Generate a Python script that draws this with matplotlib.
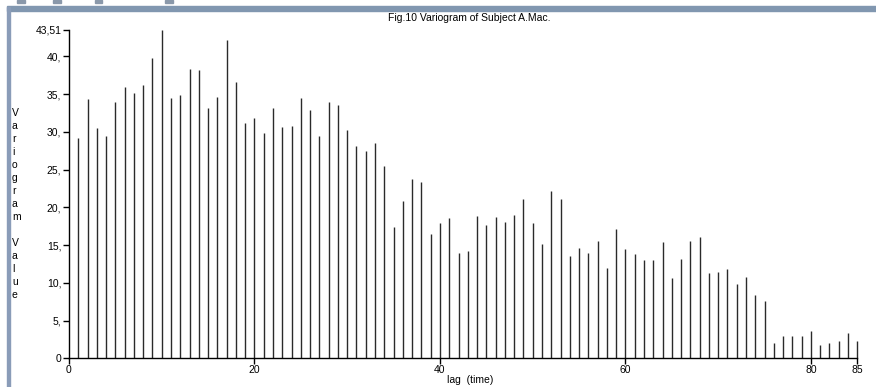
#!/usr/bin/env python3
# -*- coding: utf-8 -*-
"""
Вариограмма (Fig.10) - вертикальные линии по лагам
"""

import matplotlib.pyplot as plt
from matplotlib.patches import Rectangle

# Значения вариограммы для лагов 1..85
lags = list(range(1, 86))
variogram = [
    29.2, 34.3, 30.5, 29.4, 33.9, 35.9, 35.1, 36.2, 39.8, 43.51,
    34.5, 34.9, 38.3, 38.2, 33.2, 34.6, 42.2, 36.6, 31.1, 31.8,
    29.9, 33.2, 30.6, 30.8, 34.5, 32.9, 29.4, 33.9, 33.5, 30.2,
    28.1, 27.5, 28.5, 25.5, 17.4, 20.9, 23.7, 23.4, 16.4, 17.9,
    18.6, 14.0, 14.2, 18.9, 17.6, 18.7, 18.0, 19.0, 21.1, 17.9,
    15.1, 22.1, 21.1, 13.6, 14.6, 14.0, 15.5, 12.0, 17.1, 14.5,
    13.8, 13.0, 13.0, 15.4, 10.6, 13.2, 15.5, 16.1, 11.3, 11.4,
    11.8, 9.9, 10.8, 8.4, 7.6, 2.0, 2.9, 2.9, 3.0, 3.6,
    1.7, 2.0, 2.3, 3.3, 2.3,
]

y_ticks = [0, 5, 10, 15, 20, 25, 30, 35, 40, 43.51]
y_labels = ['0', '5,', '10,', '15,', '20,', '25,', '30,', '35,', '40,', '43,51']
x_ticks = [0, 20, 40, 60, 80, 85]

plt.rcParams['font.family'] = ['Liberation Sans', 'DejaVu Sans']

W, H = 876, 387
fig = plt.figure(figsize=(W / 100, H / 100), dpi=100)

# рамка окна: полоса сверху и слева
fig.patches.append(Rectangle((7 / W, 1 - 11 / H), 1, 5 / H, transform=fig.transFigure,
                             color='#8197b0', zorder=0))
fig.patches.append(Rectangle((7 / W, 0), 3 / W, 1 - 7 / H, transform=fig.transFigure,
                             color='#8a9cb8', zorder=0))
for x0, x1 in [(17, 25), (53, 61), (95, 102), (165, 173)]:
    fig.patches.append(Rectangle((x0 / W, 1 - 3 / H), (x1 - x0) / W, 3 / H,
                                 transform=fig.transFigure, color='#8a98aa', zorder=0))

ax = fig.add_axes([69 / W, 28.7 / H, 788.3 / W, 328.5 / H])
ax.vlines(lags, 0, variogram, colors='#2a2a2a', linewidth=1.0, clip_on=False)

ax.set_xlim(0, 85)
ax.set_ylim(0, 43.51)
ax.set_xticks(x_ticks)
ax.set_xticklabels([str(t) for t in x_ticks])
ax.set_yticks(y_ticks)
ax.set_yticklabels(y_labels)
ax.tick_params(axis='both', direction='out', length=4, width=1, labelsize=7.5,
               pad=1.5, colors='black')
ax.tick_params(axis='x', pad=1)

for side in ['top', 'right']:
    ax.spines[side].set_visible(False)
for side in ['left', 'bottom']:
    ax.spines[side].set_linewidth(1)
    ax.spines[side].set_color('black')

fig.text(470 / W, 1 - 380 / H, 'lag  (time)', ha='center', va='center', fontsize=7.5)
fig.text(469 / W, 1 - 18 / H, 'Fig.10 Variogram of Subject A.Mac.',
         ha='center', va='center', fontsize=7.5)
fig.text(12 / W, 1 - 204 / H, '\n'.join('Variogram Value'),
         ha='left', va='center', fontsize=7.5, linespacing=1.38)

plt.savefig('out.png', dpi=100)
